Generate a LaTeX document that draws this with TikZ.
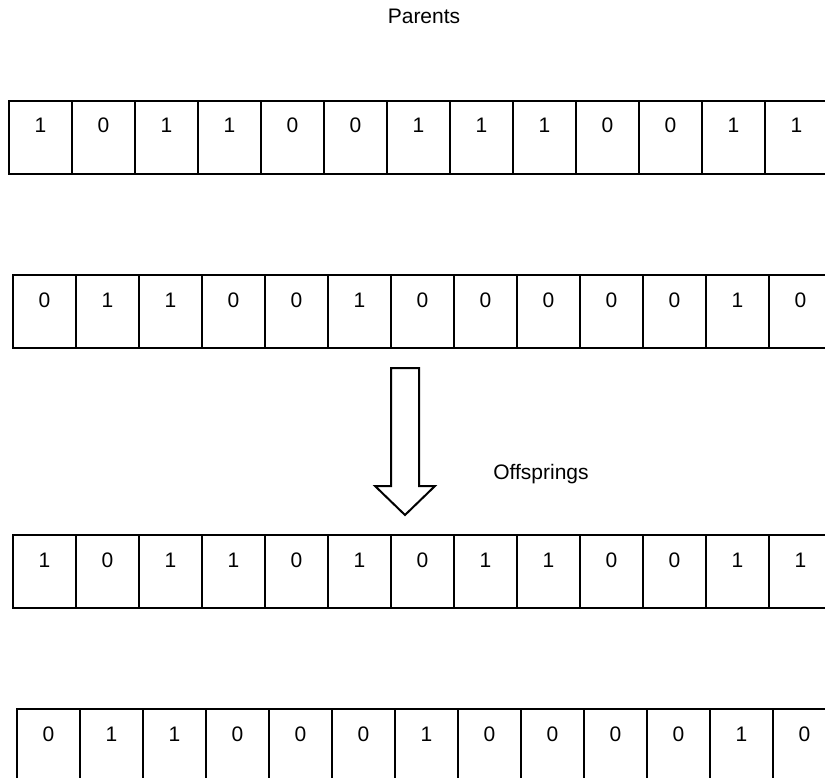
\documentclass[tikz,border=0pt]{standalone}
\usepackage{fontspec}
\setmainfont{Liberation Sans}
\newcommand{\bitfont}{\fontsize{21}{25}\selectfont}
\tikzset{
  cell/.style={draw, line width=2pt, anchor=north west, minimum width=63pt, minimum height=73pt,
    inner sep=0pt, text height=32pt, text depth=41pt, font=\bitfont},
  caption/.style={font=\bitfont, inner sep=0pt}
}

\begin{document}
\begin{tikzpicture}[x=1pt,y=-1pt]
				\path[use as bounding box, clip] (0,0) rectangle (825,778);
				\node[caption] (parents) at (424,16) {Parents};
				\foreach \v [count=\i] in {1,0,1,1,0,0,1,1,1,0,0,1,1}
					\node[cell] (pa\i) at ({8+63*(\i-1)},100) {\v};
				\foreach \v [count=\i] in {0,1,1,0,0,1,0,0,0,0,0,1,0}
					\node[cell] (pb\i) at ({12+63*(\i-1)},274) {\v};
				\draw[line width=2pt, line join=miter] (391,368) -- (419,368) -- (419,486) -- (435,486)
					-- (405,515) -- (375,486) -- (391,486) -- cycle;
				\node[caption] (offsprings) at (541,474) {Offsprings};
				\foreach \v [count=\i] in {1,0,1,1,0,1,0,1,1,0,0,1,1}
					\node[cell] (oa\i) at ({12+63*(\i-1)},534) {\v};
				\foreach \v [count=\i] in {0,1,1,0,0,0,1,0,0,0,0,1,0}
					\node[cell] (ob\i) at ({16+63*(\i-1)},708) {\v};
			\end{tikzpicture}
\end{document}
